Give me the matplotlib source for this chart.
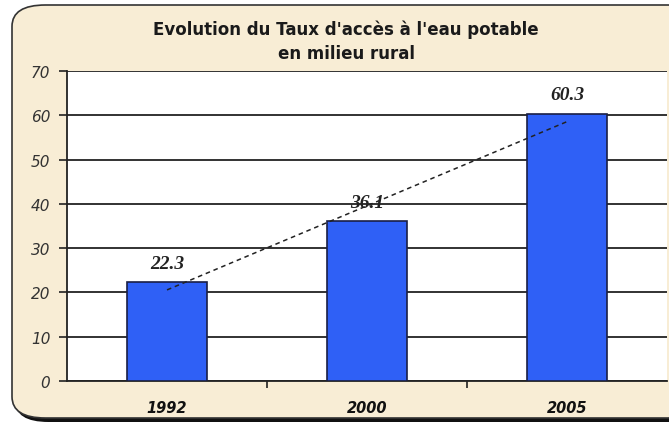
import numpy as np
import matplotlib
matplotlib.use("Agg")
import matplotlib.pyplot as plt
from matplotlib.patches import FancyBboxPatch

years = ["1992", "2000", "2005"]
values = [22.3, 36.1, 60.3]
yticks = [0, 10, 20, 30, 40, 50, 60, 70]
title = "Evolution du Taux d'accès à l'eau potable\nen milieu rural"

W, H = 669, 427
fig = plt.figure(figsize=(W / 100, H / 100), dpi=100)
fig.patch.set_facecolor("white")

# shadow + framed background
shadow = FancyBboxPatch((15 / W, (H - 423) / H), (W + 20) / W, 412 / H,
                        boxstyle="round,pad=0,rounding_size=0.05",
                        transform=fig.transFigure, facecolor="#111111",
                        edgecolor="none", zorder=0)
frame = FancyBboxPatch((12 / W, (H - 419) / H), (W + 20) / W, 413 / H,
                       boxstyle="round,pad=0,rounding_size=0.05",
                       transform=fig.transFigure, facecolor="#F8EDD5",
                       edgecolor="#333333", linewidth=1.2, zorder=1)
fig.patches.extend([shadow, frame])

ax = fig.add_axes([67 / W, (H - 382) / H, 600 / W, 310 / H])
ax.set_zorder(2)
ax.set_facecolor("white")

x = np.arange(len(years))
ax.bar(x, values, width=0.4, color="#2F60F6", edgecolor="#1A1F45",
       linewidth=1.2, zorder=3)

# linear trend line
coef = np.polyfit(x, values, 1)
xt = np.array([x[0], x[-1]])
ax.plot(xt, np.polyval(coef, xt), linestyle=(0, (3, 2.5)), color="#222222",
        linewidth=1.1, zorder=4)

for xi, v in zip(x, values):
    ax.text(xi, v + 4.3, f"{v:.1f}", ha="center", va="center",
            family="Liberation Serif", style="italic", fontweight="bold",
            fontsize=14, color="#222222", zorder=5)

ax.set_xlim(-0.5, 2.5)
ax.set_ylim(0, 70)
ax.set_yticks(yticks)
ax.set_yticklabels([str(t) for t in yticks], fontsize=11, style="italic",
                   color="#333333")
ax.yaxis.grid(True, color="#222222", linewidth=1.3, zorder=1)
ax.set_axisbelow(True)

ax.set_xticks(x)
ax.set_xticklabels(years, fontsize=10.5, style="italic", fontweight="bold",
                   color="#111111")
ax.set_xticks([0.5, 1.5], minor=True)
ax.tick_params(axis="x", which="major", length=0, pad=14)
ax.tick_params(axis="x", which="minor", length=5, width=1.2, direction="out",
               color="#222222")
ax.tick_params(axis="y", length=6, width=1.2, color="#222222", pad=6)

for s in ["top", "right"]:
    ax.spines[s].set_visible(False)
for s in ["left", "bottom"]:
    ax.spines[s].set_color("#222222")
    ax.spines[s].set_linewidth(1.3)

fig.text(346 / W, 1 - 42 / H, title, ha="center", va="center",
         fontsize=12, fontweight="bold", color="#1a1a1a",
         linespacing=1.4, zorder=3)

fig.savefig("out.png", dpi=100, facecolor=fig.get_facecolor())
